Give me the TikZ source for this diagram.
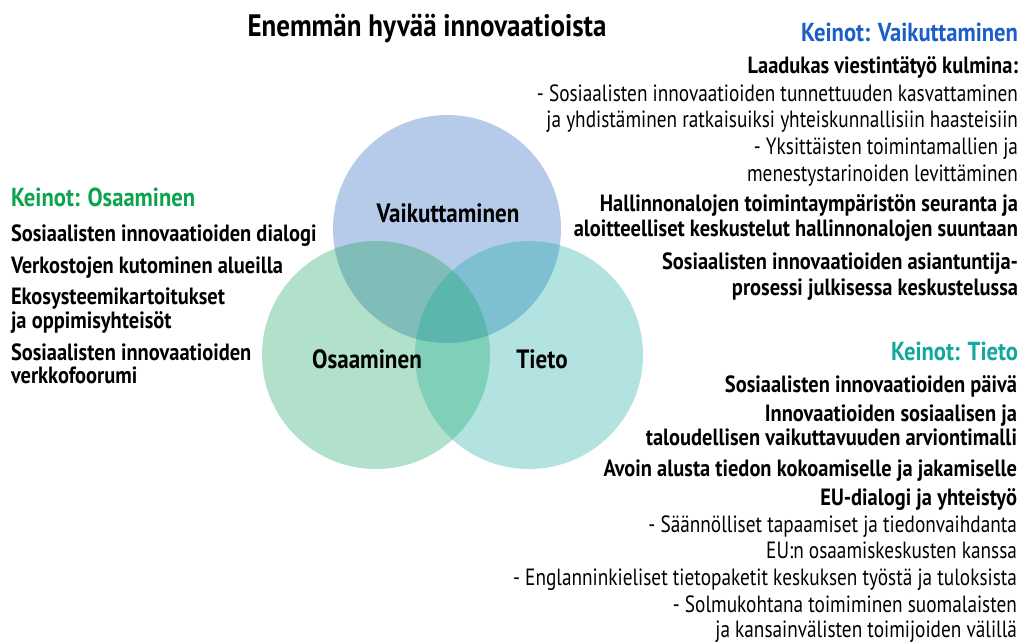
\documentclass[tikz,border=0pt]{standalone}
\usepackage{fontspec}
\setmainfont{PT Sans}[FakeStretch=0.82]
\newfontfamily\bfam{PT Sans}[FakeStretch=0.87]
\begin{document}
\begin{tikzpicture}[x=1pt,y=-1pt,
  every node/.style={inner sep=0pt,outer sep=0pt},
  bodyr/.style={anchor=base east,font=\fontsize{23.5}{28}\selectfont},
  bodyb/.style={anchor=base east,font=\bfam\bfseries\fontsize{23.5}{28}\selectfont},
  bodyl/.style={anchor=base west,font=\bfam\bfseries\fontsize{23.5}{28}\selectfont},
  head/.style={font=\bfam\bfseries\fontsize{26}{30}\selectfont},
  clabel/.style={anchor=base,font=\bfam\bfseries\fontsize{26.5}{30}\selectfont}]
\definecolor{cblue}{HTML}{B6CAEA}
\definecolor{cgreen}{HTML}{B1E0CB}
\definecolor{cteal}{HTML}{B2E3E0}
\definecolor{cbg}{HTML}{80BDB8}
\definecolor{cbt}{HTML}{7EC0D1}
\definecolor{cgt}{HTML}{80CFB8}
\definecolor{call}{HTML}{5BB6AC}
\definecolor{hblue}{HTML}{1A5EC8}
\definecolor{hgreen}{HTML}{0CA24E}
\definecolor{hteal}{HTML}{13A89C}
\useasboundingbox[fill=white] (0,0) rectangle (1025,644);
% circles
\fill[cblue] (447,229) circle (114);
\fill[cgreen] (376,355) circle (114);
\fill[cteal] (529,355) circle (114);
\begin{scope}
  \clip (447,229) circle (114);
  \fill[cbg] (376,355) circle (114);
  \fill[cbt] (529,355) circle (114);
\end{scope}
\begin{scope}
  \clip (376,355) circle (114);
  \fill[cgt] (529,355) circle (114);
\end{scope}
\begin{scope}
  \clip (447,229) circle (114);
  \clip (376,355) circle (114);
  \fill[call] (529,355) circle (114);
\end{scope}
\node[clabel] (lv) at (448,223) {Vaikuttaminen};
\node[clabel] (lo) at (367,368) {Osaaminen};
\node[clabel] (lt) at (542,368) {Tieto};
% title
\node[anchor=base,font=\bfam\bfseries\fontsize{31}{36}\selectfont] (title) at (427,37) {Enemmän hyvää innovaatioista};
% Vaikuttaminen block
\node[head,anchor=base east,text=hblue] (hv) at (1018,42) {Keinot: Vaikuttaminen};
\node[bodyb] (v1) at (1018,74) {Laadukas viestintätyö kulmina:};
\node[bodyr] (v2) at (1018,102) {- Sosiaalisten innovaatioiden tunnettuuden kasvattaminen};
\node[bodyr] (v3) at (1018,128) {ja yhdistäminen ratkaisuiksi yhteiskunnallisiin haasteisiin};
\node[bodyr] (v4) at (1018,155) {- Yksittäisten toimintamallien ja};
\node[bodyr] (v5) at (1018,182) {menestystarinoiden levittäminen};
\node[bodyb] (v6) at (1018,212) {Hallinnonalojen toimintaympäristön seuranta ja};
\node[bodyb] (v7) at (1018,237) {aloitteelliset keskustelut hallinnonalojen suuntaan};
\node[bodyb] (v8) at (1018,270) {Sosiaalisten innovaatioiden asiantuntija-};
\node[bodyb] (v9) at (1018,295) {prosessi julkisessa keskustelussa};
% Tieto block
\node[head,anchor=base east,text=hteal] (ht) at (1018,360) {Keinot: Tieto};
\node[bodyb] (t1) at (1017,392) {Sosiaalisten innovaatioiden päivä};
\node[bodyb] (t2) at (1017,421) {Innovaatioiden sosiaalisen ja};
\node[bodyb] (t3) at (1017,445) {taloudellisen vaikuttavuuden arviontimalli};
\node[bodyb] (t4) at (1017,476) {Avoin alusta tiedon kokoamiselle ja jakamiselle};
\node[bodyb] (t5) at (1017,505) {EU-dialogi ja yhteistyö};
\node[bodyr] (t6) at (1017,532) {- Säännölliset tapaamiset ja tiedonvaihdanta};
\node[bodyr] (t7) at (1017,558) {EU:n osaamiskeskusten kanssa};
\node[bodyr] (t8) at (1017,585) {- Englanninkieliset tietopaketit keskuksen työstä ja tuloksista};
\node[bodyr] (t9) at (1017,612) {- Solmukohtana toimiminen suomalaisten};
\node[bodyr] (t10) at (1017,637) {ja kansainvälisten toimijoiden välillä};
% Osaaminen block
\node[head,anchor=base west,text=hgreen] (ho) at (11,207) {Keinot: Osaaminen};
\node[bodyl] (o1) at (11,242) {Sosiaalisten innovaatioiden dialogi};
\node[bodyl] (o2) at (11,273) {Verkostojen kutominen alueilla};
\node[bodyl] (o3) at (11,305) {Ekosysteemikartoitukset};
\node[bodyl] (o4) at (11,328) {ja oppimisyhteisöt};
\node[bodyl] (o5) at (11,360) {Sosiaalisten innovaatioiden};
\node[bodyl] (o6) at (11,383) {verkkofoorumi};
\end{tikzpicture}
\end{document}
